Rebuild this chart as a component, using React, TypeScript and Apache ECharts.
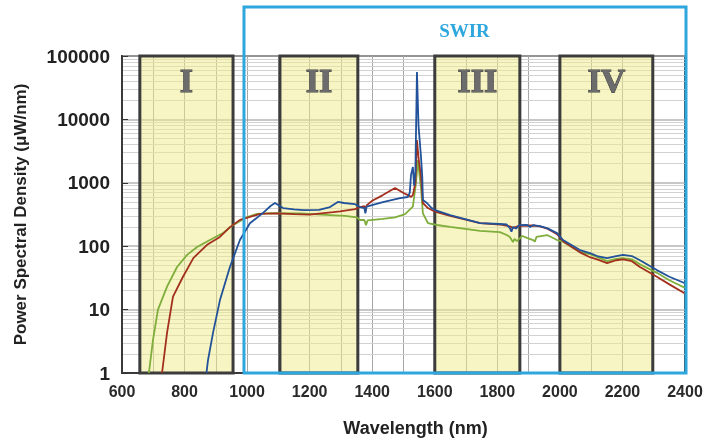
import React, { useEffect, useRef } from "react";
import * as echarts from "echarts";

// ---- data ----
const greenNm = [686,699,715,744,776,808,840,881,923,955,1000,1032,1073,1169,1265,1313,1351,1361,1375,1380,1385,1434,1473,1505,1530,1540,1546,1552,1556,1562,1578,1607,1649,1745,1808,1830,1840,1850,1855,1863,1880,1895,1914,1920,1925,1959,1991,2010,2064,2096,2119,2151,2180,2202,2230,2256,2310,2350,2400];
const greenPsd = [1,3.3,10,23,47,73,97,125,162,215,288,323,333,330,310,300,285,259,260,215,255,270,285,320,420,1000,2290,1200,820,330,232,216,201,175,167,150,140,116,130,120,145,135,125,118,140,150,125,118,81,75,68,58,63,65,62,52,38,29,22];

const redNm = [728,744,763,795,828,872,913,945,977,1041,1095,1150,1200,1275,1297,1345,1361,1375,1378,1382,1400,1434,1473,1500,1514,1524,1530,1538,1543,1548,1556,1562,1578,1601,1649,1745,1808,1840,1850,1870,1914,1936,1959,1991,2010,2064,2096,2119,2151,2180,2202,2230,2256,2310,2350,2400];
const redPsd = [1,4.3,16,33,65,105,140,200,260,323,330,320,315,345,355,385,415,430,350,440,520,640,830,690,640,600,640,1000,4730,2500,1240,480,400,350,300,232,220,205,195,210,212,205,190,155,120,80,67,62,54,60,62,58,47,33,25,18];

const blueNm = [870,875,891,913,945,977,1009,1051,1075,1089,1115,1150,1180,1230,1265,1290,1310,1345,1361,1375,1378,1382,1434,1489,1514,1520,1524,1530,1534,1538,1543,1548,1556,1560,1562,1575,1590,1601,1649,1745,1808,1830,1840,1845,1850,1860,1870,1895,1905,1914,1936,1959,1991,2010,2064,2096,2119,2151,2180,2202,2230,2256,2310,2350,2400];
const bluePsd = [1,1.6,4.3,14,47,125,230,335,430,480,400,380,370,375,415,500,480,460,415,400,330,420,497,575,597,700,1325,1770,900,1500,55800,8000,2550,1230,535,480,400,372,310,232,224,220,193,170,200,190,215,216,200,215,208,193,161,125,87,78,70,65,70,73,70,60,42,33,26];

const bandStart = [657, 1105, 1600, 2000];
const bandEnd = [955, 1354, 1872, 2297];
const bandLabels = ["I", "II", "III", "IV"];

const swirStart = 990;
const swirEnd = 2400;
const xMin = 600;
const xMax = 2400;
const yMin = 1;
const yMax = 100000;
const yDecades = [1, 10, 100, 1000, 10000];
const minorSteps = [2, 3, 4, 5, 6, 7, 8, 9];

const pairs = (xs: number[], ys: number[]) => xs.map((x, i) => [x, ys[i]]);

export default function App() {
  const ref = useRef<HTMLDivElement>(null);
  useEffect(() => {
    const chart = echarts.init(ref.current!, null, { renderer: "svg" });
    const minorY = yDecades.flatMap((d) => minorSteps.map((k) => k * d));
    const font = "Liberation Sans";
    const option: any = {
      animation: false,
      grid: {
        left: 122,
        right: 22,
        top: 56,
        bottom: 70,
        show: true,
        borderColor: "#3a3a3a",
        borderWidth: 2,
        backgroundColor: "transparent",
      },
      xAxis: {
        type: "value",
        min: xMin,
        max: xMax,
        interval: 100,
        name: "Wavelength (nm)",
        nameLocation: "middle",
        nameGap: 46,
        nameTextStyle: {
          fontFamily: font,
          fontWeight: "bold",
          fontSize: 18,
          color: "#222",
          padding: [0, 0, 0, 24],
        },
        axisLine: { show: true, lineStyle: { color: "#3a3a3a", width: 2 } },
        axisTick: { show: false },
        axisLabel: {
          fontFamily: font,
          fontWeight: "bold",
          fontSize: 16,
          color: "#2a2a2a",
          margin: 10,
          showMinLabel: true,
          showMaxLabel: true,
          formatter: (v: number) => (v % 200 === 0 ? String(v) : ""),
        },
        splitLine: { show: true, lineStyle: { color: "#a6a6a6", width: 1 } },
      },
      yAxis: {
        type: "log",
        logBase: 10,
        min: yMin,
        max: yMax,
        name: "Power Spectral Density (μW/nm)",
        nameLocation: "middle",
        nameGap: 93,
        nameTextStyle: {
          fontFamily: font,
          fontWeight: "bold",
          fontSize: 17,
          color: "#222",
        },
        axisLine: { show: true, lineStyle: { color: "#3a3a3a", width: 2 } },
        axisTick: { show: true, inside: true, length: 6, lineStyle: { color: "#333" } },
        axisLabel: {
          fontFamily: font,
          fontWeight: "bold",
          fontSize: 19,
          color: "#222",
          margin: 12,
          formatter: (v: number) => String(Math.round(v)),
        },
        splitLine: { show: true, lineStyle: { color: "#b4b4b4", width: 1.6 } },
      },
      series: [
        {
          type: "line",
          name: "minorGrid",
          data: [],
          z: 0,
          silent: true,
          markLine: {
            z: 0,
            silent: true,
            symbol: "none",
            label: { show: false },
            lineStyle: { color: "#d2d2d2", width: 1, type: "solid" },
            data: minorY.map((v) => ({ yAxis: v })),
          },
        },
        {
          type: "line",
          name: "bands",
          data: [],
          z: 1,
          silent: true,
          markArea: {
            z: 1,
            silent: true,
            itemStyle: {
              color: "rgba(240, 236, 135, 0.5)",
              borderColor: "#3c3c3c",
              borderWidth: 3,
            },
            label: {
              show: true,
              position: "insideTop",
              distance: 9,
              fontFamily: "Liberation Serif",
              fontWeight: "bold",
              fontSize: 34,
              color: "#6c6c6c",
              textBorderColor: "#404040",
              textBorderWidth: 1,
            },
            data: bandStart.map((s, i) => [
              { xAxis: s, name: bandLabels[i] },
              { xAxis: bandEnd[i] },
            ]),
          },
        },
        {
          type: "line",
          name: "green",
          data: pairs(greenNm, greenPsd),
          showSymbol: false,
          z: 10,
          lineStyle: { color: "#7fae3c", width: 1.8 },
          itemStyle: { color: "#7fae3c" },
        },
        {
          type: "line",
          name: "red",
          data: pairs(redNm, redPsd),
          showSymbol: false,
          z: 11,
          lineStyle: { color: "#a3301f", width: 1.8 },
          itemStyle: { color: "#a3301f" },
        },
        {
          type: "line",
          name: "blue",
          data: pairs(blueNm, bluePsd),
          showSymbol: false,
          z: 12,
          lineStyle: { color: "#22529a", width: 1.8 },
          itemStyle: { color: "#22529a" },
        },
      ],
    };
    chart.setOption(option);
    const x0 = chart.convertToPixel({ xAxisIndex: 0 }, swirStart) as number;
    const x1 = chart.convertToPixel({ xAxisIndex: 0 }, swirEnd) as number;
    const yb = chart.convertToPixel({ yAxisIndex: 0 }, yMin) as number;
    const top = 7;
    chart.setOption({
      graphic: [
        {
          type: "rect",
          z: 100,
          silent: true,
          shape: { x: x0, y: top, width: x1 - x0 + 1, height: yb - top },
          style: { fill: "none", stroke: "#2ea6de", lineWidth: 3 },
        },
        {
          type: "text",
          z: 101,
          x: (x0 + x1) / 2,
          y: 30,
          style: {
            text: "SWIR",
            align: "center",
            verticalAlign: "middle",
            fontFamily: "Liberation Serif",
            fontWeight: "bold",
            fontSize: 19,
            fill: "#2ea6de",
          },
        },
      ],
    });
    return () => chart.dispose();
  }, []);
  return (
    <div
      ref={ref}
      style={{ position: "fixed", left: 0, top: 0, width: 707, height: 443 }}
    />
  );
}
